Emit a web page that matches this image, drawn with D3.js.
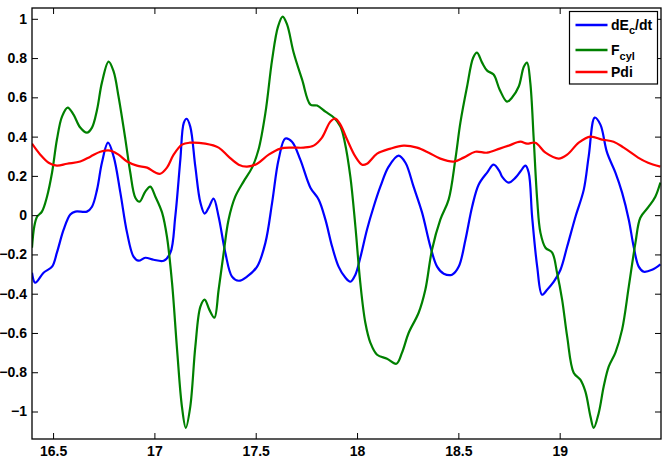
<!DOCTYPE html>
<html lang="en">
<head>
  <meta charset="UTF-8">
  <title>dEc/dt, Fcyl, Pdi</title>
  <style>
  body { margin: 0; background: #fff; }
  svg text { font-family: "Liberation Sans", Arial, sans-serif; font-weight: bold; }
  .series { fill: none; stroke-width: 2.2px; stroke-linejoin: round; }
  </style>
</head>
<body>
  <script src="https://d3js.org/d3.v7.min.js"></script>
  <script type="text/javascript">

    // tick labels
    var xTicks = [16.5, 17, 17.5, 18, 18.5, 19];
    var yTicks = [-1, -0.8, -0.6, -0.4, -0.2, 0, 0.2, 0.4, 0.6, 0.8, 1];

    // dE_c/dt (blue)
    var dEcX = [16.396,16.412,16.453,16.495,16.519,16.552,16.585,16.610,16.667,16.692,16.717,16.741,16.771,16.799,16.832,16.865,16.897,16.922,16.955,16.996,17.046,17.079,17.103,17.128,17.145,17.159,17.177,17.202,17.227,17.248,17.268,17.292,17.317,17.350,17.383,17.416,17.457,17.507,17.548,17.581,17.613,17.646,17.679,17.720,17.770,17.811,17.844,17.877,17.909,17.942,17.967,17.992,18.016,18.049,18.082,18.115,18.156,18.205,18.239,18.279,18.321,18.362,18.395,18.428,18.469,18.502,18.535,18.568,18.600,18.642,18.674,18.704,18.716,18.748,18.782,18.806,18.831,18.847,18.864,18.889,18.913,18.938,18.971,19.004,19.037,19.078,19.119,19.143,19.173,19.201,19.234,19.275,19.308,19.341,19.365,19.390,19.415,19.456,19.497];
    var dEcY = [-0.293,-0.344,-0.293,-0.262,-0.191,-0.074,0.003,0.018,0.018,0.043,0.130,0.267,0.369,0.298,0.115,-0.089,-0.211,-0.232,-0.217,-0.227,-0.232,-0.191,-0.008,0.283,0.470,0.491,0.451,0.247,0.064,0.008,0.038,0.084,-0.008,-0.191,-0.313,-0.334,-0.313,-0.262,-0.140,0.064,0.283,0.390,0.374,0.283,0.140,0.079,-0.023,-0.160,-0.262,-0.318,-0.339,-0.303,-0.217,-0.074,0.043,0.145,0.247,0.303,0.267,0.145,0.013,-0.160,-0.262,-0.298,-0.303,-0.262,-0.125,0.043,0.155,0.217,0.257,0.222,0.196,0.166,0.191,0.222,0.252,0.217,-0.008,-0.262,-0.405,-0.380,-0.339,-0.278,-0.160,-0.008,0.130,0.298,0.497,0.461,0.318,0.217,0.115,-0.023,-0.160,-0.262,-0.288,-0.278,-0.250];

    // F_cyl (green)
    var fcylX = [16.396,16.407,16.421,16.445,16.470,16.495,16.519,16.544,16.572,16.601,16.634,16.667,16.692,16.717,16.741,16.774,16.799,16.823,16.857,16.881,16.906,16.927,16.955,16.980,17.005,17.038,17.062,17.087,17.112,17.136,17.155,17.177,17.202,17.227,17.248,17.271,17.296,17.317,17.342,17.366,17.399,17.440,17.482,17.514,17.548,17.581,17.610,17.633,17.655,17.687,17.729,17.770,17.803,17.844,17.885,17.918,17.939,17.967,17.992,18.016,18.041,18.066,18.099,18.148,18.194,18.222,18.255,18.304,18.337,18.370,18.411,18.452,18.485,18.510,18.543,18.573,18.592,18.617,18.642,18.674,18.704,18.740,18.765,18.798,18.823,18.839,18.855,18.872,18.889,18.905,18.930,18.963,18.987,19.012,19.037,19.069,19.102,19.127,19.152,19.168,19.193,19.217,19.242,19.275,19.308,19.341,19.374,19.398,19.439,19.472,19.497];
    var fcylY = [-0.166,-0.059,-0.008,0.018,0.094,0.217,0.385,0.502,0.548,0.512,0.446,0.420,0.446,0.537,0.675,0.782,0.731,0.604,0.385,0.217,0.089,0.069,0.120,0.145,0.094,0.013,-0.110,-0.344,-0.686,-0.976,-1.083,-0.976,-0.670,-0.466,-0.430,-0.481,-0.522,-0.380,-0.191,-0.023,0.094,0.171,0.242,0.334,0.522,0.792,0.960,1.011,0.970,0.828,0.690,0.563,0.558,0.527,0.497,0.451,0.374,0.196,-0.059,-0.344,-0.548,-0.650,-0.711,-0.731,-0.757,-0.700,-0.599,-0.497,-0.380,-0.176,-0.023,0.079,0.283,0.471,0.655,0.802,0.828,0.777,0.736,0.716,0.639,0.578,0.599,0.655,0.756,0.777,0.675,0.385,0.079,-0.089,-0.166,-0.191,-0.293,-0.430,-0.619,-0.802,-0.838,-0.899,-1.026,-1.083,-1.006,-0.874,-0.772,-0.700,-0.583,-0.364,-0.140,-0.013,0.043,0.094,0.166];

    // Pdi (red)
    var pdiX = [16.396,16.437,16.478,16.519,16.569,16.634,16.684,16.733,16.782,16.823,16.865,16.914,16.964,17.005,17.029,17.062,17.095,17.136,17.174,17.251,17.317,17.366,17.416,17.457,17.507,17.564,17.622,17.679,17.737,17.786,17.827,17.868,17.893,17.918,17.951,17.992,18.025,18.049,18.099,18.165,18.230,18.296,18.354,18.411,18.477,18.526,18.584,18.642,18.704,18.748,18.806,18.839,18.880,18.930,18.995,19.037,19.094,19.152,19.209,19.266,19.316,19.387,19.436,19.497];
    var pdiY = [0.364,0.308,0.267,0.252,0.262,0.273,0.298,0.323,0.329,0.308,0.273,0.252,0.242,0.217,0.211,0.242,0.308,0.359,0.369,0.364,0.344,0.298,0.257,0.247,0.262,0.308,0.339,0.344,0.344,0.354,0.395,0.476,0.492,0.461,0.385,0.298,0.257,0.262,0.313,0.339,0.354,0.344,0.318,0.288,0.273,0.293,0.323,0.318,0.339,0.354,0.374,0.364,0.369,0.318,0.288,0.308,0.369,0.400,0.385,0.374,0.344,0.293,0.267,0.247];

    var seriesNames = ["dEc/dt", "Fcyl", "Pdi"];
    var seriesColors = ["#0000ff", "#008000", "#ff0000"];

    var width = 668;
    var height = 468;
    var margin = {top: 8, right: 7, bottom: 29, left: 32};

    var svg = d3.select("body")
        .append("svg")
          .attr("width", width)
          .attr("height", height);

    var x = d3.scaleLinear()
        .domain([16.396, 19.5])
        .range([margin.left, width - margin.right]);

    var y = d3.scaleLinear()
        .domain([-1.14, 1.055])
        .range([height - margin.bottom, margin.top]);

    var fmt = d3.format("~g");

    // clip the lines to the axes box
    svg.append("clipPath")
        .attr("id", "plot")
      .append("rect")
        .attr("x", margin.left)
        .attr("y", margin.top)
        .attr("width", width - margin.left - margin.right)
        .attr("height", height - margin.top - margin.bottom);

    var series = [
      {x: dEcX, y: dEcY},
      {x: fcylX, y: fcylY},
      {x: pdiX, y: pdiY}
    ];

    var line = d3.line()
        .x(function(d){ return x(d[0]); })
        .y(function(d){ return y(d[1]); })
        .curve(d3.curveCatmullRom.alpha(0.5));

    svg.append("g")
        .attr("clip-path", "url(#plot)")
      .selectAll("path")
      .data(series)
      .enter()
      .append("path")
        .attr("class", "series")
        .attr("stroke", function(d, i){ return seriesColors[i]; })
        .attr("d", function(d){ return line(d3.zip(d.x, d.y)); });

    // axes, MATLAB style: ticks pointing in on all four sides
    var tickLen = 6;
    svg.append("g")
        .attr("transform", "translate(0," + (height - margin.bottom) + ")")
        .call(d3.axisBottom(x).tickValues(xTicks).tickSizeInner(-tickLen).tickSizeOuter(0).tickPadding(7).tickFormat(fmt));
    svg.append("g")
        .attr("transform", "translate(0," + margin.top + ")")
        .call(d3.axisTop(x).tickValues(xTicks).tickSizeInner(-tickLen).tickSizeOuter(0).tickFormat(""));
    svg.append("g")
        .attr("transform", "translate(" + margin.left + ",0)")
        .call(d3.axisLeft(y).tickValues(yTicks).tickSizeInner(-tickLen).tickSizeOuter(0).tickPadding(5).tickFormat(fmt));
    svg.append("g")
        .attr("transform", "translate(" + (width - margin.right) + ",0)")
        .call(d3.axisRight(y).tickValues(yTicks).tickSizeInner(-tickLen).tickSizeOuter(0).tickFormat(""));

    svg.selectAll(".domain").remove();
    svg.selectAll(".tick line").attr("stroke", "#000");
    svg.selectAll(".tick text")
        .attr("fill", "#000")
        .style("font-size", "14px");

    svg.append("rect")
        .attr("x", margin.left)
        .attr("y", margin.top)
        .attr("width", width - margin.left - margin.right)
        .attr("height", height - margin.top - margin.bottom)
        .attr("fill", "none")
        .attr("stroke", "#000")
        .attr("stroke-width", 1.3);

    // legend
    var legend = svg.append("g").attr("transform", "translate(569.5,11.5)");
    legend.append("rect")
        .attr("width", 88)
        .attr("height", 72.5)
        .attr("fill", "#fff")
        .attr("stroke", "#000")
        .attr("stroke-width", 1.2);

    var rowY = [13.5, 38.5, 60.5];
    var row = legend.selectAll("g.row")
        .data(seriesNames)
        .enter()
        .append("g")
          .attr("class", "row")
          .attr("transform", function(d, i){ return "translate(0," + rowY[i] + ")"; });

    row.append("line")
        .attr("x1", 6)
        .attr("x2", 38)
        .attr("stroke", function(d, i){ return seriesColors[i]; })
        .attr("stroke-width", 2.5);

    var label = row.append("text")
        .attr("x", 41.5)
        .attr("y", 5)
        .style("font-size", "14px");

    // dE_c/dt
    var t0 = label.filter(function(d, i){ return i === 0; });
    t0.append("tspan").text("dE");
    t0.append("tspan").attr("dy", 4).style("font-size", "11px").text("c");
    t0.append("tspan").attr("dy", -4).text("/dt");

    // F_cyl
    var t1 = label.filter(function(d, i){ return i === 1; });
    t1.append("tspan").text("F");
    t1.append("tspan").attr("dy", 5).style("font-size", "11px").text("cyl");

    // Pdi
    label.filter(function(d, i){ return i === 2; }).text("Pdi");

  </script>
</body>
</html>
